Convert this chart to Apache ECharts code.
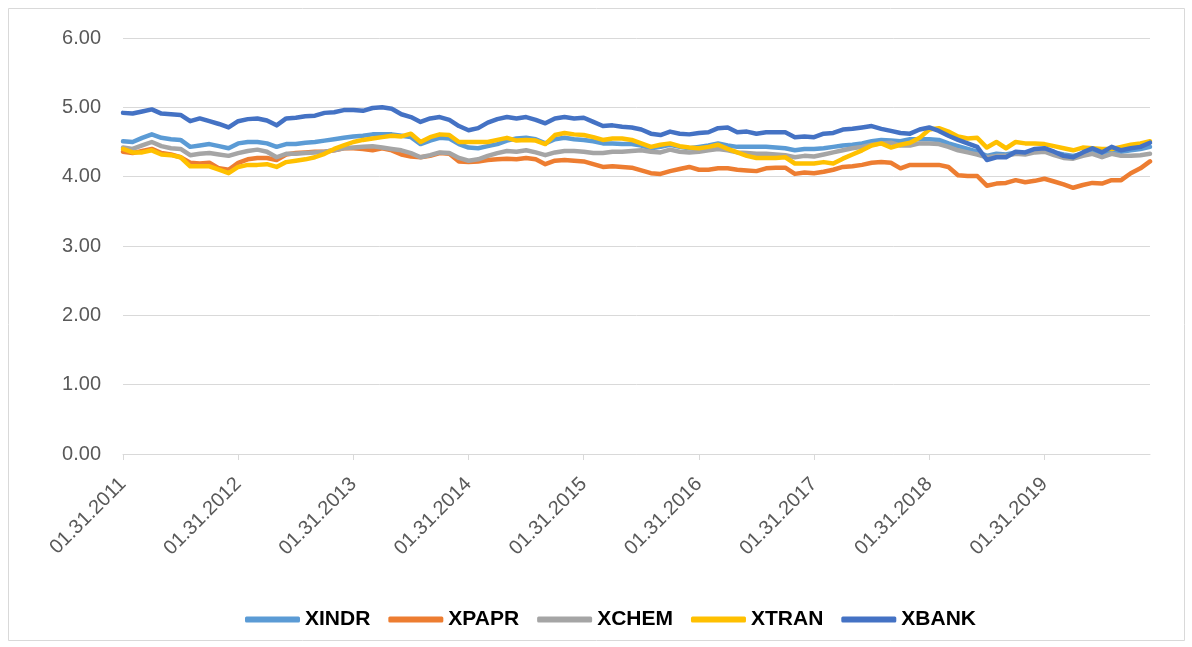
<!DOCTYPE html>
<html>
<head>
<meta charset="utf-8">
<script src="https://cdn.jsdelivr.net/npm/echarts@6/dist/echarts.min.js"></script>
<style>
  html, body { margin: 0; padding: 0; background: #fff; }
  #chartBox { width: 1192px; height: 647px; }
</style>
</head>
<body>
<div id="chartBox"></div>
<script>
// monthly, Jan 2011 .. Dec 2019 (month-end dates)
const years = [2011, 2012, 2013, 2014, 2015, 2016, 2017, 2018, 2019];
const monthEnds = ["01.31", "02.28", "03.31", "04.30", "05.31", "06.30",
  "07.31", "08.31", "09.30", "10.31", "11.30", "12.31"];

const xindr = [4.51, 4.50, 4.56, 4.61, 4.56, 4.54, 4.53, 4.43, 4.45, 4.47, 4.44, 4.41,
  4.48, 4.50, 4.50, 4.48, 4.43, 4.47, 4.47, 4.49, 4.50, 4.52, 4.54, 4.56,
  4.58, 4.59, 4.61, 4.61, 4.61, 4.59, 4.57, 4.47, 4.52, 4.56, 4.55, 4.47,
  4.42, 4.41, 4.44, 4.47, 4.52, 4.55, 4.56, 4.54, 4.48, 4.54, 4.56, 4.54,
  4.53, 4.51, 4.48, 4.48, 4.47, 4.47, 4.45, 4.41, 4.43, 4.46, 4.43, 4.41,
  4.43, 4.45, 4.48, 4.45, 4.43, 4.43, 4.43, 4.43, 4.42, 4.41, 4.38, 4.40,
  4.40, 4.41, 4.43, 4.45, 4.46, 4.48, 4.51, 4.53, 4.52, 4.51, 4.54, 4.54,
  4.54, 4.53, 4.48, 4.44, 4.40, 4.36, 4.30, 4.33, 4.32, 4.35, 4.34, 4.37,
  4.38, 4.35, 4.32, 4.30, 4.33, 4.37, 4.34, 4.38, 4.36, 4.38, 4.40, 4.43];

const xpapr = [4.36, 4.34, 4.37, 4.40, 4.34, 4.32, 4.28, 4.20, 4.19, 4.20, 4.12, 4.10,
  4.20, 4.25, 4.27, 4.27, 4.24, 4.32, 4.34, 4.35, 4.36, 4.36, 4.38, 4.41,
  4.41, 4.40, 4.38, 4.41, 4.38, 4.32, 4.29, 4.28, 4.30, 4.34, 4.33, 4.22,
  4.21, 4.22, 4.24, 4.25, 4.26, 4.25, 4.27, 4.25, 4.18, 4.23, 4.24, 4.23,
  4.22, 4.18, 4.14, 4.15, 4.14, 4.13, 4.09, 4.05, 4.04, 4.08, 4.11, 4.14,
  4.10, 4.10, 4.12, 4.12, 4.10, 4.09, 4.08, 4.12, 4.13, 4.13, 4.04, 4.06,
  4.05, 4.07, 4.10, 4.14, 4.15, 4.17, 4.20, 4.21, 4.20, 4.12, 4.17, 4.17,
  4.17, 4.17, 4.14, 4.02, 4.01, 4.01, 3.87, 3.90, 3.91, 3.95, 3.92, 3.94,
  3.97, 3.93, 3.89, 3.84, 3.88, 3.91, 3.90, 3.95, 3.95, 4.05, 4.12, 4.22];

const xchem = [4.42, 4.40, 4.45, 4.50, 4.44, 4.41, 4.40, 4.31, 4.33, 4.34, 4.32, 4.30,
  4.34, 4.37, 4.39, 4.36, 4.28, 4.33, 4.33, 4.34, 4.35, 4.36, 4.38, 4.41,
  4.42, 4.43, 4.44, 4.42, 4.40, 4.38, 4.34, 4.28, 4.31, 4.35, 4.34, 4.27,
  4.23, 4.25, 4.30, 4.34, 4.37, 4.36, 4.38, 4.35, 4.31, 4.35, 4.37, 4.37,
  4.36, 4.34, 4.34, 4.36, 4.36, 4.37, 4.38, 4.36, 4.35, 4.39, 4.36, 4.35,
  4.36, 4.38, 4.40, 4.38, 4.35, 4.34, 4.33, 4.33, 4.32, 4.31, 4.28, 4.30,
  4.29, 4.32, 4.35, 4.38, 4.41, 4.43, 4.46, 4.48, 4.49, 4.45, 4.45, 4.48,
  4.48, 4.47, 4.43, 4.38, 4.35, 4.32, 4.28, 4.30, 4.30, 4.33, 4.32, 4.35,
  4.36, 4.31, 4.27, 4.26, 4.30, 4.33, 4.28, 4.33, 4.30, 4.30, 4.31, 4.33];

const xtran = [4.40, 4.35, 4.35, 4.38, 4.32, 4.31, 4.28, 4.15, 4.15, 4.15, 4.10, 4.05,
  4.14, 4.17, 4.17, 4.18, 4.14, 4.21, 4.23, 4.25, 4.28, 4.33, 4.40, 4.45,
  4.50, 4.53, 4.55, 4.57, 4.59, 4.58, 4.62, 4.50, 4.57, 4.61, 4.60, 4.50,
  4.50, 4.50, 4.50, 4.53, 4.56, 4.52, 4.53, 4.52, 4.47, 4.60, 4.63, 4.61,
  4.60, 4.57, 4.53, 4.55, 4.55, 4.53, 4.48, 4.43, 4.46, 4.48, 4.44, 4.42,
  4.41, 4.43, 4.46, 4.40, 4.35, 4.30, 4.27, 4.27, 4.27, 4.28, 4.19, 4.19,
  4.19, 4.21, 4.19, 4.26, 4.32, 4.38, 4.45, 4.48, 4.42, 4.46, 4.49, 4.56,
  4.68, 4.70, 4.65, 4.58, 4.55, 4.56, 4.42, 4.50, 4.41, 4.50, 4.48, 4.48,
  4.47, 4.44, 4.41, 4.38, 4.42, 4.41, 4.40, 4.40, 4.43, 4.46, 4.48, 4.51];

const xbank = [4.92, 4.91, 4.94, 4.97, 4.91, 4.90, 4.89, 4.80, 4.84, 4.80, 4.76, 4.71,
  4.80, 4.83, 4.84, 4.81, 4.74, 4.84, 4.85, 4.87, 4.88, 4.92, 4.93, 4.96,
  4.96, 4.95, 4.99, 5.00, 4.98, 4.90, 4.86, 4.79, 4.84, 4.86, 4.82, 4.73,
  4.67, 4.70, 4.78, 4.83, 4.86, 4.84, 4.86, 4.82, 4.77, 4.84, 4.86, 4.84,
  4.85, 4.79, 4.73, 4.74, 4.72, 4.71, 4.68, 4.62, 4.60, 4.65, 4.62, 4.61,
  4.63, 4.64, 4.70, 4.71, 4.64, 4.65, 4.62, 4.64, 4.64, 4.64, 4.57, 4.58,
  4.57, 4.62, 4.63, 4.68, 4.69, 4.71, 4.73, 4.69, 4.66, 4.63, 4.62, 4.68,
  4.71, 4.66, 4.59, 4.53, 4.48, 4.43, 4.24, 4.28, 4.28, 4.36, 4.35, 4.40,
  4.41, 4.36, 4.30, 4.28, 4.35, 4.41, 4.35, 4.43, 4.38, 4.41, 4.43, 4.49];

const names = ["XINDR", "XPAPR", "XCHEM", "XTRAN", "XBANK"];
const colors = ["#5B9BD5", "#ED7D31", "#A5A5A5", "#FFC000", "#4472C4"];
const values = [xindr, xpapr, xchem, xtran, xbank];

const dates = [];
years.forEach(function (y) {
  monthEnds.forEach(function (md) {
    let day = md;
    if (md === "02.28" && y % 4 === 0) day = "02.29";
    dates.push(day + "." + y);
  });
});

const myChart = echarts.init(document.getElementById("chartBox"));
const option = {
  animation: false,
  backgroundColor: "#fff",
  graphic: [
    {
      type: "rect",
      shape: { x: 8.5, y: 8.5, width: 1176, height: 632 },
      style: { fill: "none", stroke: "#d9d9d9", lineWidth: 1 },
      silent: true,
    },
  ],
  grid: { left: 123, right: 42, top: 38, bottom: 193 },
  legend: {
    data: names,
    top: 604,
    left: 240,
    icon: "roundRect",
    itemWidth: 55,
    itemHeight: 6,
    itemGap: 18,
    textStyle: {
      fontFamily: "Liberation Sans",
      fontWeight: "bold",
      fontSize: 21,
      color: "#000",
    },
  },
  xAxis: {
    type: "category",
    data: dates,
    boundaryGap: false,
    axisLine: { lineStyle: { color: "#d9d9d9", width: 1 } },
    axisTick: { show: true, interval: 11, length: 6, lineStyle: { color: "#d9d9d9" } },
    axisLabel: {
      interval: 11,
      rotate: 45,
      margin: 27,
      fontFamily: "Liberation Sans",
      fontSize: 20,
      color: "#595959",
    },
    splitLine: { show: false },
  },
  yAxis: {
    type: "value",
    min: 0,
    max: 6,
    interval: 1,
    axisLine: { show: false },
    axisTick: { show: false },
    axisLabel: {
      margin: 22,
      fontFamily: "Liberation Sans",
      fontSize: 20,
      color: "#595959",
      formatter: function (v) { return v.toFixed(2); },
    },
    splitLine: { lineStyle: { color: "#d9d9d9", width: 1 } },
  },
  series: names.map(function (n, k) {
    return {
      name: n,
      type: "line",
      data: values[k],
      showSymbol: false,
      symbol: "none",
      color: colors[k],
      itemStyle: { color: colors[k] },
      lineStyle: { color: colors[k], width: 4.5, cap: "round", join: "round" },
    };
  }),
};

option && myChart.setOption(option);
</script>
</body>
</html>
